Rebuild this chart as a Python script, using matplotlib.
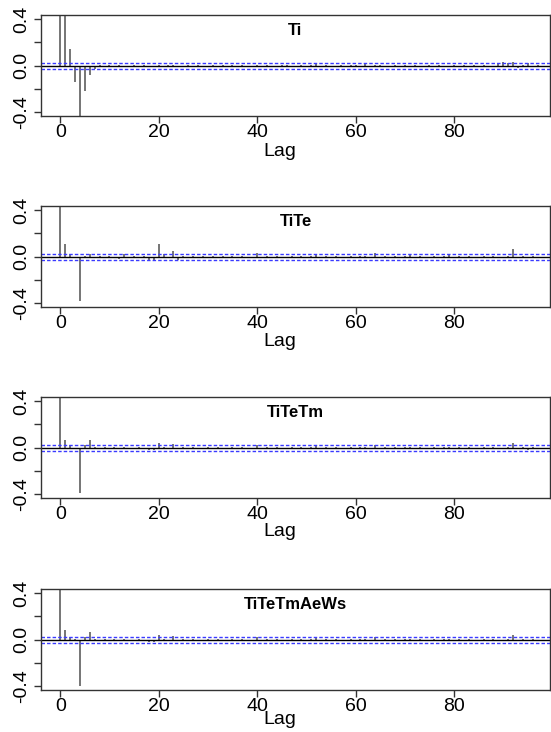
# -*- coding: utf-8 -*-

import numpy as np
import matplotlib
matplotlib.use('Agg')
import matplotlib.pyplot as plt

plt.rcParams['font.family'] = ['Liberation Sans', 'DejaVu Sans']

# autocorrelation values, in hundredths, lags 0..98
acfTi = [100, 60, 14, -14, -55, -22, -8, -3, 1, -1,
         1, -1, 1, 0, -1, 1, -1, 1, 0, -1,
         1, -1, 1, 1, -1, 0, 1, -1, 1, 0,
         -1, 1, -1, 1, 0, 1, -1, 1, -1, 0,
         1, -1, 1, 0, -1, 1, 1, -1, 0, 1,
         -1, 1, 2, -1, 1, -1, 0, 1, -1, 1,
         1, -1, 2, -1, 1, 1, -1, 0, 1, -1,
         1, -1, 1, 0, -1, 1, -1, 1, 0, -1,
         1, -1, 1, 0, 1, -1, 1, -1, 0, 2,
         3, 2, 3, -2, 1, 2, -1, 1, -1]

acfTiTe = [100, 11, 2, -1, -38, 1, 2, -1, 1, -1,
           1, -1, -2, 2, -1, 1, -1, 1, -4, -4,
           11, 2, -1, 5, -3, 1, -1, 1, -1, 1,
           -1, 1, 0, 1, -1, 1, -1, 1, 0, -1,
           3, -1, 1, -1, 1, 0, -1, 1, -1, 1,
           -1, 1, 2, -1, 1, -1, 1, 0, -1, 1,
           -1, 1, 1, 0, 3, -1, 1, -1, 1, -1,
           1, 2, -1, 1, 0, -1, 1, -1, 1, 2,
           -1, 1, -1, 1, 0, -1, 1, -1, 1, 0,
           -1, 1, 7, -1, 1, -1, 1, 0, -1]

acfTiTeTm = [100, 7, 2, -1, -39, 2, 7, 1, -1, 1,
             -1, 1, -1, 1, 0, -1, 1, -1, -2, -2,
             4, 1, -1, 3, -1, 1, -1, 1, 0, -1,
             1, -1, 1, 0, -1, 1, -1, 1, 0, -1,
             2, -1, 1, -1, 1, 0, -1, 1, -1, 1,
             -1, 1, 2, -1, 1, -1, 1, 0, -1, 1,
             -1, 1, 1, 0, 2, -1, 1, -1, 1, -1,
             1, 1, -1, 1, 0, -1, 1, -1, 1, 1,
             -1, 1, -1, 1, 0, -1, 1, -1, 1, 0,
             -1, 1, 4, -1, 1, -2, 1, 0, -1]

acfTiTeTmAeWs = [100, 8, 2, 1, -40, 2, 7, 1, -1, 1,
                 -1, 1, -1, 1, 0, -1, 1, -1, -2, -2,
                 4, 1, -1, 3, -1, 1, -1, 1, 0, -1,
                 1, -1, 1, 0, -1, 1, -1, 1, 0, -1,
                 2, -1, 1, -1, 1, 0, -1, 1, -1, 1,
                 -1, 1, 2, -1, 1, -1, 1, 0, -1, 1,
                 -1, 1, 1, 0, 2, -1, 1, -1, 1, -1,
                 1, 1, -1, 1, 0, -1, 1, -1, 1, 1,
                 -1, 1, -1, 1, 0, -1, 1, -1, 1, 0,
                 -1, 1, 4, -1, 1, -1, 1, 0, -1]

titles = ['Ti', 'TiTe', 'TiTeTm', 'TiTeTmAeWs']
series = [acfTi, acfTiTe, acfTiTeTm, acfTiTeTmAeWs]
ciBound = 0.025

W, H = 551, 732
fig = plt.figure(figsize=(W/100, H/100), dpi=100)

tops = [15, 206, 397, 589]   # pixel top of each panel
lagOff = [35, 35, 34, 29]    # gap from panel bottom to the "Lag" label
pH = 101
left, right = 41, 550

for top, off, name, vals in zip(tops, lagOff, titles, series):
    ax = fig.add_axes([left/W, 1-(top+pH)/H, (right-left)/W, pH/H])
    lags = np.arange(len(vals))
    acf = np.array(vals)/100.
    ax.vlines(lags, 0, acf, color='#505050', linewidth=1.1)
    ax.axhline(0, color='black', linewidth=1)
    ax.axhline(ciBound, color='#3a3aff', linewidth=1, linestyle=(0, (2.5, 1.5)))
    ax.axhline(-ciBound, color='#3a3aff', linewidth=1, linestyle=(0, (2.5, 1.5)))
    ax.set_xlim(-3.9, 99.5)
    ax.set_ylim(-0.432, 0.435)
    ax.set_xticks([0, 20, 40, 60, 80])
    ax.set_yticks([-0.4, -0.2, 0.0, 0.2, 0.4])
    ax.set_yticklabels(['-0.4', '', '0.0', '', '0.4'], rotation=90, va='center')
    ax.tick_params(axis='both', length=5, width=1, labelsize=14, color='#333333')
    ax.tick_params(axis='x', pad=1)
    ax.tick_params(axis='y', pad=3)
    for s in ax.spines.values():
        s.set_color('#333333')
        s.set_linewidth(1)
    ax.text(0.5, 0.845, name, transform=ax.transAxes, ha='center', va='center',
            fontsize=12, fontweight='bold')
    fig.text(280/W, 1-(top+pH+off)/H, 'Lag', ha='center', va='center', fontsize=14)

plt.savefig('out.png', dpi=100)
